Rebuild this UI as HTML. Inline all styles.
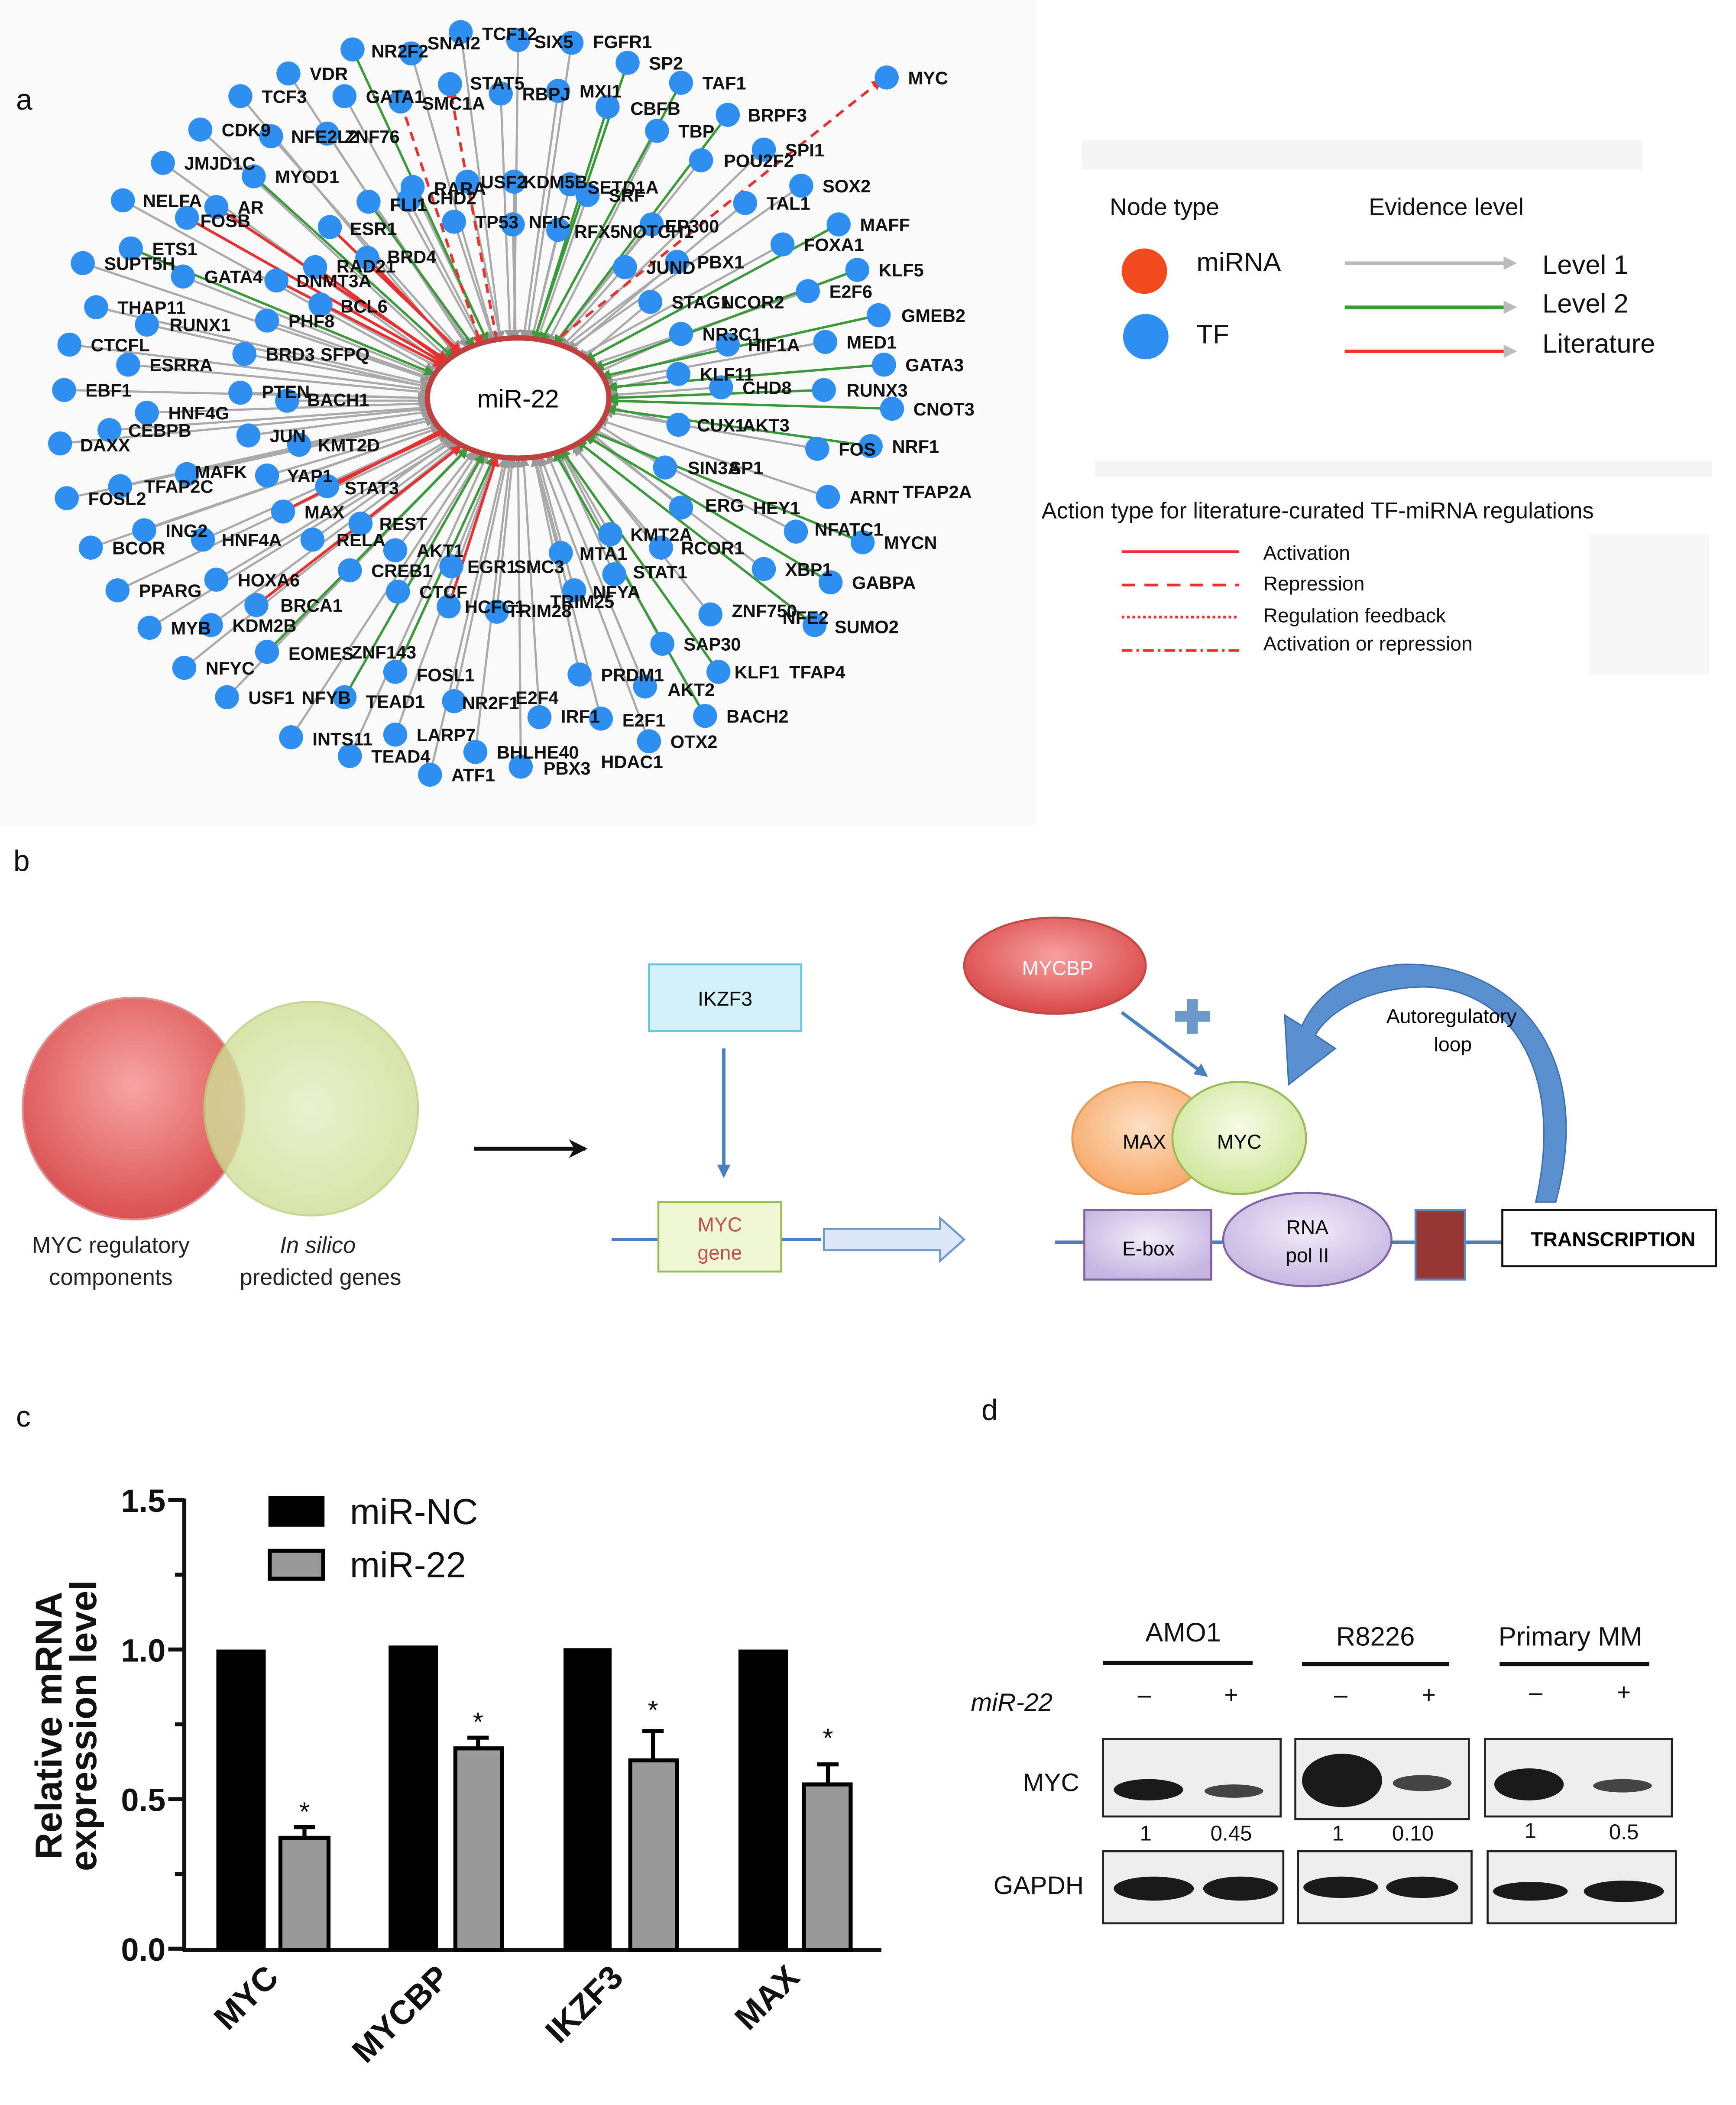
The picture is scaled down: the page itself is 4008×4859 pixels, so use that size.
<!DOCTYPE html>
<html><head><meta charset="utf-8"><style>
html,body{margin:0;padding:0;background:#fff}
svg{display:block}
.n{font-family:"Liberation Sans",sans-serif;font-size:13.5px;font-weight:bold;fill:#111}
.c{font-family:"Liberation Sans",sans-serif}
</style></head><body>
<svg width="4008" height="4859" viewBox="0 0 1300 1576" xmlns="http://www.w3.org/2000/svg">
<defs>
<marker id="ag" markerWidth="8" markerHeight="8" refX="7" refY="4" orient="auto" markerUnits="userSpaceOnUse"><path d="M0,0 L8,4 L0,8z" fill="#999"/></marker>
<marker id="agr" markerWidth="8" markerHeight="8" refX="7" refY="4" orient="auto" markerUnits="userSpaceOnUse"><path d="M0,0 L8,4 L0,8z" fill="#3a9a3a"/></marker>
<marker id="ar" markerWidth="8" markerHeight="8" refX="7" refY="4" orient="auto" markerUnits="userSpaceOnUse"><path d="M0,0 L8,4 L0,8z" fill="#e83030"/></marker>
<marker id="ab" markerWidth="10" markerHeight="10" refX="8" refY="5" orient="auto" markerUnits="userSpaceOnUse"><path d="M0,0 L10,5 L0,10z" fill="#4a7fc1"/></marker>
<marker id="ak" markerWidth="14" markerHeight="14" refX="12" refY="7" orient="auto" markerUnits="userSpaceOnUse"><path d="M0,0 L14,7 L0,14 L4,7z" fill="#111"/></marker>
<radialGradient id="gr" cx="50%" cy="40%" r="60%"><stop offset="0" stop-color="#f7a0a0"/><stop offset="1" stop-color="#d94848"/></radialGradient>
<radialGradient id="gg" cx="50%" cy="50%" r="60%"><stop offset="0" stop-color="#e4efc4"/><stop offset="1" stop-color="#c8dc8c"/></radialGradient>
<radialGradient id="go" cx="50%" cy="40%" r="60%"><stop offset="0" stop-color="#fde0c4"/><stop offset="1" stop-color="#f7a867"/></radialGradient>
<radialGradient id="gm" cx="50%" cy="40%" r="60%"><stop offset="0" stop-color="#f6fbe6"/><stop offset="1" stop-color="#cfe69a"/></radialGradient>
<radialGradient id="gp" cx="50%" cy="40%" r="60%"><stop offset="0" stop-color="#f1ecf8"/><stop offset="1" stop-color="#c7b6e2"/></radialGradient>
</defs>
<rect x="0" y="0" width="775" height="618" fill="#fafafa"/>
<rect x="810" y="105" width="420" height="22" fill="#f5f5f5"/>
<rect x="820" y="345" width="462" height="12" fill="#f5f5f5"/>
<rect x="1190" y="400" width="90" height="105" fill="#f7f7f7"/>

<!-- edges -->
<g stroke="#aaa" stroke-width="1.6" fill="none" marker-end="url(#ag)">
<line x1="345" y1="24" x2="375" y2="255"/><line x1="308" y1="40" x2="370" y2="255"/><line x1="388" y1="30" x2="385" y2="254"/>
<line x1="428" y1="32" x2="395" y2="254"/><line x1="216" y1="55" x2="350" y2="260"/><line x1="180" y1="72" x2="340" y2="264"/>
<line x1="258" y1="72" x2="360" y2="258"/><line x1="375" y1="70" x2="382" y2="254"/><line x1="418" y1="68" x2="392" y2="254"/>
<line x1="492" y1="98" x2="410" y2="257"/><line x1="572" y1="112" x2="420" y2="260"/><line x1="150" y1="97" x2="335" y2="268"/>
<line x1="203" y1="102" x2="345" y2="262"/><line x1="245" y1="100" x2="352" y2="260"/><line x1="122" y1="122" x2="330" y2="272"/>
<line x1="525" y1="120" x2="415" y2="258"/><line x1="600" y1="139" x2="425" y2="262"/><line x1="92" y1="150" x2="325" y2="278"/>
<line x1="309" y1="140" x2="365" y2="256"/><line x1="350" y1="136" x2="375" y2="255"/><line x1="385" y1="136" x2="386" y2="254"/>
<line x1="427" y1="138" x2="398" y2="255"/><line x1="440" y1="146" x2="402" y2="256"/><line x1="558" y1="152" x2="425" y2="264"/>
<line x1="306" y1="150" x2="362" y2="258"/><line x1="340" y1="166" x2="370" y2="257"/><line x1="384" y1="168" x2="386" y2="254"/>
<line x1="418" y1="172" x2="398" y2="255"/><line x1="488" y1="168" x2="415" y2="258"/><line x1="586" y1="183" x2="432" y2="268"/>
<line x1="62" y1="197" x2="322" y2="284"/><line x1="137" y1="207" x2="325" y2="282"/><line x1="468" y1="200" x2="415" y2="260"/>
<line x1="507" y1="196" x2="420" y2="262"/><line x1="605" y1="218" x2="440" y2="274"/><line x1="240" y1="228" x2="330" y2="276"/>
<line x1="487" y1="226" x2="435" y2="270"/><line x1="72" y1="230" x2="322" y2="288"/><line x1="110" y1="243" x2="322" y2="290"/>
<line x1="200" y1="240" x2="325" y2="284"/><line x1="510" y1="250" x2="445" y2="280"/><line x1="545" y1="258" x2="450" y2="284"/>
<line x1="618" y1="256" x2="452" y2="286"/><line x1="52" y1="258" x2="322" y2="292"/><line x1="96" y1="273" x2="322" y2="294"/>
<line x1="183" y1="265" x2="324" y2="290"/><line x1="508" y1="280" x2="454" y2="292"/><line x1="540" y1="290" x2="455" y2="296"/>
<line x1="48" y1="292" x2="320" y2="298"/><line x1="180" y1="294" x2="320" y2="298"/><line x1="215" y1="300" x2="320" y2="300"/>
<line x1="110" y1="309" x2="321" y2="302"/><line x1="45" y1="332" x2="322" y2="306"/><line x1="82" y1="322" x2="322" y2="305"/>
<line x1="186" y1="326" x2="323" y2="308"/><line x1="224" y1="333" x2="325" y2="312"/><line x1="508" y1="318" x2="454" y2="304"/>
<line x1="612" y1="336" x2="452" y2="308"/><line x1="140" y1="355" x2="326" y2="314"/><line x1="90" y1="364" x2="325" y2="312"/>
<line x1="200" y1="356" x2="330" y2="318"/><line x1="498" y1="350" x2="445" y2="316"/><line x1="50" y1="373" x2="326" y2="314"/>
<line x1="620" y1="372" x2="448" y2="314"/><line x1="270" y1="392" x2="345" y2="332"/><line x1="510" y1="380" x2="440" y2="322"/>
<line x1="108" y1="397" x2="330" y2="320"/><line x1="152" y1="404" x2="334" y2="322"/><line x1="234" y1="404" x2="340" y2="328"/>
<line x1="596" y1="398" x2="442" y2="320"/><line x1="68" y1="410" x2="330" y2="320"/><line x1="296" y1="412" x2="355" y2="338"/>
<line x1="457" y1="400" x2="420" y2="336"/><line x1="420" y1="414" x2="400" y2="340"/><line x1="495" y1="410" x2="428" y2="332"/>
<line x1="88" y1="442" x2="335" y2="325"/><line x1="162" y1="434" x2="338" y2="328"/><line x1="262" y1="427" x2="350" y2="335"/>
<line x1="338" y1="424" x2="372" y2="340"/><line x1="460" y1="430" x2="418" y2="338"/><line x1="572" y1="426" x2="440" y2="325"/>
<line x1="298" y1="443" x2="362" y2="338"/><line x1="372" y1="458" x2="384" y2="342"/><line x1="430" y1="442" x2="402" y2="340"/>
<line x1="112" y1="470" x2="340" y2="330"/><line x1="158" y1="468" x2="342" y2="332"/><line x1="532" y1="460" x2="430" y2="334"/>
<line x1="496" y1="482" x2="420" y2="338"/><line x1="138" y1="500" x2="345" y2="334"/><line x1="434" y1="505" x2="400" y2="342"/>
<line x1="483" y1="514" x2="410" y2="340"/><line x1="170" y1="522" x2="350" y2="336"/><line x1="340" y1="525" x2="380" y2="342"/>
<line x1="404" y1="537" x2="392" y2="342"/><line x1="450" y1="538" x2="400" y2="342"/><line x1="218" y1="552" x2="358" y2="338"/>
<line x1="296" y1="550" x2="372" y2="342"/><line x1="486" y1="555" x2="405" y2="342"/><line x1="262" y1="566" x2="365" y2="340"/>
<line x1="356" y1="563" x2="382" y2="343"/><line x1="390" y1="574" x2="388" y2="343"/><line x1="322" y1="580" x2="378" y2="343"/>
</g>
<g stroke="#3a9a3a" stroke-width="1.8" fill="none" marker-end="url(#agr)">
<line x1="264" y1="37" x2="365" y2="256"/><line x1="470" y1="47" x2="400" y2="255"/><line x1="510" y1="62" x2="405" y2="256"/>
<line x1="455" y1="80" x2="400" y2="255"/><line x1="545" y1="86" x2="415" y2="258"/><line x1="276" y1="151" x2="355" y2="260"/>
<line x1="628" y1="168" x2="438" y2="270"/><line x1="642" y1="202" x2="445" y2="276"/><line x1="658" y1="236" x2="450" y2="282"/>
<line x1="662" y1="273" x2="455" y2="290"/><line x1="617" y1="292" x2="456" y2="298"/><line x1="668" y1="306" x2="456" y2="300"/>
<line x1="652" y1="334" x2="454" y2="306"/><line x1="646" y1="406" x2="440" y2="322"/><line x1="622" y1="436" x2="438" y2="326"/>
<line x1="610" y1="468" x2="432" y2="330"/><line x1="538" y1="503" x2="420" y2="336"/><line x1="528" y1="536" x2="415" y2="338"/>
<line x1="296" y1="503" x2="370" y2="342"/><line x1="200" y1="488" x2="350" y2="336"/><line x1="258" y1="522" x2="362" y2="340"/>
<line x1="190" y1="132" x2="340" y2="268"/><line x1="98" y1="186" x2="325" y2="280"/>
</g>
<g stroke="#e83030" stroke-width="2" fill="none" marker-end="url(#ar)">
<line x1="162" y1="155" x2="335" y2="270"/><line x1="236" y1="200" x2="335" y2="272"/><line x1="207" y1="210" x2="332" y2="274"/>
<line x1="247" y1="170" x2="345" y2="264"/><line x1="275" y1="193" x2="345" y2="266"/><line x1="245" y1="364" x2="336" y2="322"/>
<line x1="192" y1="453" x2="345" y2="334"/><line x1="212" y1="383" x2="335" y2="320"/><line x1="336" y1="454" x2="372" y2="342"/>
<line x1="140" y1="163" x2="333" y2="272"/>
</g>
<g stroke="#e83030" stroke-width="2" fill="none" stroke-dasharray="7,5" marker-end="url(#ar)">
<line x1="420" y1="252" x2="660" y2="60"/><line x1="372" y1="255" x2="337" y2="66"/><line x1="300" y1="76" x2="360" y2="258"/>
</g>
<ellipse cx="388" cy="298" rx="68" ry="45" fill="#fff" stroke="#c04040" stroke-width="4"/>
<text x="388" y="305" text-anchor="middle" class="c" font-size="19">miR-22</text>

<!-- nodes -->
<g fill="#2f8ff0">
<circle cx="345" cy="24" r="9"/><circle cx="264" cy="37" r="9"/><circle cx="308" cy="40" r="9"/><circle cx="388" cy="30" r="9"/><circle cx="428" cy="32" r="9"/><circle cx="470" cy="47" r="9"/><circle cx="664" cy="58" r="9"/><circle cx="216" cy="55" r="9"/><circle cx="337" cy="63" r="9"/><circle cx="510" cy="62" r="9"/><circle cx="180" cy="72" r="9"/><circle cx="258" cy="72" r="9"/><circle cx="300" cy="76" r="9"/><circle cx="375" cy="70" r="9"/><circle cx="418" cy="68" r="9"/><circle cx="455" cy="80" r="9"/><circle cx="545" cy="86" r="9"/><circle cx="150" cy="97" r="9"/><circle cx="203" cy="102" r="9"/><circle cx="245" cy="100" r="9"/><circle cx="492" cy="98" r="9"/><circle cx="572" cy="112" r="9"/><circle cx="122" cy="122" r="9"/><circle cx="190" cy="132" r="9"/><circle cx="525" cy="120" r="9"/><circle cx="600" cy="139" r="9"/><circle cx="92" cy="150" r="9"/><circle cx="162" cy="155" r="9"/><circle cx="140" cy="163" r="9"/><circle cx="276" cy="151" r="9"/><circle cx="309" cy="140" r="9"/><circle cx="350" cy="136" r="9"/><circle cx="385" cy="136" r="9"/><circle cx="427" cy="138" r="9"/><circle cx="440" cy="146" r="9"/><circle cx="558" cy="152" r="9"/><circle cx="628" cy="168" r="9"/><circle cx="247" cy="170" r="9"/><circle cx="306" cy="150" r="9"/><circle cx="340" cy="166" r="9"/><circle cx="384" cy="168" r="9"/><circle cx="418" cy="172" r="9"/><circle cx="488" cy="168" r="9"/><circle cx="586" cy="183" r="9"/><circle cx="98" cy="186" r="9"/><circle cx="236" cy="200" r="9"/><circle cx="275" cy="193" r="9"/><circle cx="468" cy="200" r="9"/><circle cx="507" cy="196" r="9"/><circle cx="642" cy="202" r="9"/><circle cx="62" cy="197" r="9"/><circle cx="137" cy="207" r="9"/><circle cx="207" cy="210" r="9"/><circle cx="605" cy="218" r="9"/><circle cx="240" cy="228" r="9"/><circle cx="487" cy="226" r="9"/><circle cx="72" cy="230" r="9"/><circle cx="110" cy="243" r="9"/><circle cx="200" cy="240" r="9"/><circle cx="658" cy="236" r="9"/><circle cx="510" cy="250" r="9"/><circle cx="545" cy="258" r="9"/><circle cx="618" cy="256" r="9"/><circle cx="52" cy="258" r="9"/><circle cx="96" cy="273" r="9"/><circle cx="183" cy="265" r="9"/><circle cx="662" cy="273" r="9"/><circle cx="508" cy="280" r="9"/><circle cx="540" cy="290" r="9"/><circle cx="617" cy="292" r="9"/><circle cx="48" cy="292" r="9"/><circle cx="180" cy="294" r="9"/><circle cx="215" cy="300" r="9"/><circle cx="668" cy="306" r="9"/><circle cx="110" cy="309" r="9"/><circle cx="45" cy="332" r="9"/><circle cx="82" cy="322" r="9"/><circle cx="186" cy="326" r="9"/><circle cx="224" cy="333" r="9"/><circle cx="508" cy="318" r="9"/><circle cx="612" cy="336" r="9"/><circle cx="652" cy="334" r="9"/><circle cx="140" cy="355" r="9"/><circle cx="90" cy="364" r="9"/><circle cx="200" cy="356" r="9"/><circle cx="245" cy="364" r="9"/><circle cx="498" cy="350" r="9"/><circle cx="50" cy="373" r="9"/><circle cx="620" cy="372" r="9"/><circle cx="212" cy="383" r="9"/><circle cx="270" cy="392" r="9"/><circle cx="510" cy="380" r="9"/><circle cx="108" cy="397" r="9"/><circle cx="152" cy="404" r="9"/><circle cx="234" cy="404" r="9"/><circle cx="596" cy="398" r="9"/><circle cx="646" cy="406" r="9"/><circle cx="68" cy="410" r="9"/><circle cx="296" cy="412" r="9"/><circle cx="457" cy="400" r="9"/><circle cx="420" cy="414" r="9"/><circle cx="495" cy="410" r="9"/><circle cx="88" cy="442" r="9"/><circle cx="162" cy="434" r="9"/><circle cx="262" cy="427" r="9"/><circle cx="338" cy="424" r="9"/><circle cx="460" cy="430" r="9"/><circle cx="572" cy="426" r="9"/><circle cx="622" cy="436" r="9"/><circle cx="298" cy="443" r="9"/><circle cx="336" cy="454" r="9"/><circle cx="372" cy="458" r="9"/><circle cx="430" cy="442" r="9"/><circle cx="192" cy="453" r="9"/><circle cx="112" cy="470" r="9"/><circle cx="158" cy="468" r="9"/><circle cx="532" cy="460" r="9"/><circle cx="610" cy="468" r="9"/><circle cx="200" cy="488" r="9"/><circle cx="496" cy="482" r="9"/><circle cx="138" cy="500" r="9"/><circle cx="296" cy="503" r="9"/><circle cx="434" cy="505" r="9"/><circle cx="538" cy="503" r="9"/><circle cx="483" cy="514" r="9"/><circle cx="170" cy="522" r="9"/><circle cx="258" cy="522" r="9"/><circle cx="340" cy="525" r="9"/><circle cx="404" cy="537" r="9"/><circle cx="450" cy="538" r="9"/><circle cx="528" cy="536" r="9"/><circle cx="218" cy="552" r="9"/><circle cx="296" cy="550" r="9"/><circle cx="486" cy="555" r="9"/><circle cx="262" cy="566" r="9"/><circle cx="356" cy="563" r="9"/><circle cx="390" cy="574" r="9"/><circle cx="322" cy="580" r="9"/>
</g>
<g class="n">
<text x="361" y="30">TCF12</text><text x="278" y="43">NR2F2</text><text x="320" y="37">SNAI2</text><text x="400" y="36">SIX5</text><text x="444" y="36">FGFR1</text><text x="486" y="52">SP2</text><text x="680" y="63">MYC</text><text x="232" y="60">VDR</text><text x="352" y="67">STAT5</text><text x="526" y="67">TAF1</text><text x="196" y="77">TCF3</text><text x="274" y="77">GATA1</text><text x="316" y="82">SMC1A</text><text x="391" y="75">RBPJ</text><text x="434" y="73">MXI1</text><text x="472" y="86">CBFB</text><text x="560" y="91">BRPF3</text><text x="166" y="102">CDK9</text><text x="218" y="107">NFE2L2</text><text x="258" y="107">ZNF76</text><text x="508" y="103">TBP</text><text x="588" y="117">SPI1</text><text x="138" y="127">JMJD1C</text><text x="206" y="137">MYOD1</text><text x="542" y="125">POU2F2</text><text x="616" y="144">SOX2</text><text x="107" y="155">NELFA</text><text x="178" y="160">AR</text><text x="150" y="170">FOSB</text><text x="292" y="158">FLI1</text><text x="325" y="146">RARA</text><text x="360" y="141">USF2</text><text x="392" y="141">KDM5B</text><text x="440" y="145">SETD1A</text><text x="456" y="151">SRF</text><text x="574" y="157">TAL1</text><text x="644" y="173">MAFF</text><text x="262" y="176">ESR1</text><text x="320" y="153">CHD2</text><text x="356" y="171">TP53</text><text x="396" y="171">NFIC</text><text x="430" y="178">RFX5</text><text x="464" y="178">NOTCH1</text><text x="498" y="174">EP300</text><text x="602" y="188">FOXA1</text><text x="114" y="191">ETS1</text><text x="252" y="204">RAD21</text><text x="290" y="197">BRD4</text><text x="484" y="205">JUND</text><text x="522" y="201">PBX1</text><text x="658" y="207">KLF5</text><text x="78" y="202">SUPT5H</text><text x="153" y="212">GATA4</text><text x="222" y="215">DNMT3A</text><text x="621" y="223">E2F6</text><text x="255" y="234">BCL6</text><text x="503" y="231">STAG1</text><text x="540" y="231">NCOR2</text><text x="88" y="235">THAP11</text><text x="127" y="248">RUNX1</text><text x="216" y="245">PHF8</text><text x="675" y="241">GMEB2</text><text x="526" y="255">NR3C1</text><text x="560" y="263">HIF1A</text><text x="634" y="261">MED1</text><text x="68" y="263">CTCFL</text><text x="112" y="278">ESRRA</text><text x="199" y="270">BRD3</text><text x="240" y="270">SFPQ</text><text x="678" y="278">GATA3</text><text x="524" y="285">KLF11</text><text x="556" y="295">CHD8</text><text x="634" y="297">RUNX3</text><text x="64" y="297">EBF1</text><text x="196" y="298">PTEN</text><text x="230" y="304">BACH1</text><text x="684" y="311">CNOT3</text><text x="126" y="314">HNF4G</text><text x="60" y="338">DAXX</text><text x="96" y="327">CEBPB</text><text x="202" y="331">JUN</text><text x="238" y="338">KMT2D</text><text x="522" y="323">CUX1</text><text x="556" y="323">AKT3</text><text x="628" y="341">FOS</text><text x="668" y="339">NRF1</text><text x="146" y="358">MAFK</text><text x="108" y="369">TFAP2C</text><text x="215" y="361">YAP1</text><text x="258" y="370">STAT3</text><text x="515" y="355">SIN3A</text><text x="546" y="355">SP1</text><text x="66" y="378">FOSL2</text><text x="636" y="377">ARNT</text><text x="676" y="373">TFAP2A</text><text x="228" y="388">MAX</text><text x="284" y="397">REST</text><text x="528" y="383">ERG</text><text x="564" y="385">HEY1</text><text x="124" y="402">ING2</text><text x="166" y="409">HNF4A</text><text x="252" y="409">RELA</text><text x="610" y="401">NFATC1</text><text x="662" y="411">MYCN</text><text x="84" y="415">BCOR</text><text x="312" y="417">AKT1</text><text x="472" y="405">KMT2A</text><text x="434" y="419">MTA1</text><text x="510" y="415">RCOR1</text><text x="104" y="447">PPARG</text><text x="178" y="439">HOXA6</text><text x="278" y="432">CREB1</text><text x="350" y="429">EGR1</text><text x="385" y="429">SMC3</text><text x="474" y="433">STAT1</text><text x="588" y="431">XBP1</text><text x="638" y="441">GABPA</text><text x="314" y="448">CTCF</text><text x="348" y="459">HCFC1</text><text x="380" y="462">TRIM28</text><text x="412" y="455">TRIM25</text><text x="444" y="448">NFYA</text><text x="210" y="458">BRCA1</text><text x="128" y="475">MYB</text><text x="174" y="473">KDM2B</text><text x="548" y="462">ZNF750</text><text x="586" y="467">NFE2</text><text x="625" y="474">SUMO2</text><text x="216" y="494">EOMES</text><text x="263" y="493">ZNF143</text><text x="512" y="487">SAP30</text><text x="154" y="505">NFYC</text><text x="312" y="510">FOSL1</text><text x="450" y="510">PRDM1</text><text x="550" y="508">KLF1</text><text x="591" y="508">TFAP4</text><text x="500" y="521">AKT2</text><text x="186" y="527">USF1</text><text x="226" y="527">NFYB</text><text x="274" y="530">TEAD1</text><text x="346" y="531">NR2F1</text><text x="386" y="527">E2F4</text><text x="420" y="541">IRF1</text><text x="466" y="544">E2F1</text><text x="544" y="541">BACH2</text><text x="234" y="558">INTS11</text><text x="312" y="555">LARP7</text><text x="502" y="560">OTX2</text><text x="278" y="571">TEAD4</text><text x="372" y="568">BHLHE40</text><text x="407" y="580">PBX3</text><text x="450" y="575">HDAC1</text><text x="338" y="585">ATF1</text>
</g>

<!-- legend a -->
<g class="c" font-size="18" fill="#111">
<text x="831" y="161">Node type</text><text x="1025" y="161">Evidence level</text>
<circle cx="857" cy="203" r="17" fill="#f24a1f"/><text x="896" y="203" font-size="20">miRNA</text>
<circle cx="858" cy="252" r="17" fill="#2f8ff0"/><text x="896" y="257" font-size="20">TF</text>
<line x1="1007" y1="197" x2="1133" y2="197" stroke="#bbb" stroke-width="2.5"/><path d="M1126,192 L1136,197 L1126,202z" fill="#bbb"/>
<line x1="1007" y1="230" x2="1133" y2="230" stroke="#3a9a3a" stroke-width="2.5"/><path d="M1126,225 L1136,230 L1126,235z" fill="#bbb"/>
<line x1="1007" y1="263" x2="1133" y2="263" stroke="#f03030" stroke-width="2.5"/><path d="M1126,258 L1136,263 L1126,268z" fill="#bbb"/>
<text x="1155" y="205" font-size="20">Level 1</text><text x="1155" y="234" font-size="20">Level 2</text><text x="1155" y="264" font-size="20">Literature</text>
<text x="780" y="388" font-size="17">Action type for literature-curated TF-miRNA regulations</text>
<line x1="840" y1="413" x2="928" y2="413" stroke="#f03030" stroke-width="2"/>
<line x1="840" y1="438" x2="928" y2="438" stroke="#f03030" stroke-width="2" stroke-dasharray="10,7"/>
<line x1="840" y1="462" x2="928" y2="462" stroke="#f03030" stroke-width="2" stroke-dasharray="2,2"/>
<line x1="840" y1="487" x2="928" y2="487" stroke="#f03030" stroke-width="2" stroke-dasharray="8,3,2,3"/>
<g font-size="15"><text x="946" y="419">Activation</text><text x="946" y="442">Repression</text><text x="946" y="466">Regulation feedback</text><text x="946" y="487">Activation or repression</text></g>
</g>

<!-- panel labels -->
<g class="c" font-size="22" fill="#111">
<text x="12" y="82">a</text><text x="10" y="652">b</text><text x="12" y="1068">c</text><text x="735" y="1063">d</text>
</g>

<!-- panel b -->
<circle cx="100" cy="830" r="83" fill="url(#gr)" stroke="#d88" stroke-width="1.5" opacity="0.95"/>
<circle cx="233" cy="830" r="80" fill="url(#gg)" stroke="#b9cf7a" stroke-width="1.5" opacity="0.8"/>
<g class="c" font-size="17" fill="#222" text-anchor="middle">
<text x="83" y="938">MYC regulatory</text><text x="83" y="962">components</text>
<text x="238" y="938" font-style="italic">In silico</text><text x="240" y="962">predicted genes</text>
</g>
<line x1="355" y1="860" x2="438" y2="860" stroke="#111" stroke-width="3" marker-end="url(#ak)"/>
<rect x="486" y="722" width="114" height="50" fill="#d2f1fa" stroke="#6cc6e0" stroke-width="1.5"/>
<text x="543" y="753" text-anchor="middle" class="c" font-size="15">IKZF3</text>
<line x1="542" y1="785" x2="542" y2="880" stroke="#4a7fc1" stroke-width="2.5" marker-end="url(#ab)"/>
<line x1="458" y1="928" x2="615" y2="928" stroke="#4a7fc1" stroke-width="2.5"/>
<rect x="493" y="900" width="92" height="52" fill="#eef6d4" stroke="#9bbb59" stroke-width="1.5"/>
<text x="539" y="922" text-anchor="middle" class="c" font-size="15" fill="#c0504d">MYC</text>
<text x="539" y="943" text-anchor="middle" class="c" font-size="15" fill="#c0504d">gene</text>
<path d="M617,920 L704,920 L704,912 L722,928 L704,944 L704,936 L617,936z" fill="#dbe8f8" stroke="#6d98cc" stroke-width="1.5"/>

<ellipse cx="790" cy="723" rx="68" ry="36" fill="url(#gr)" stroke="#c04848" stroke-width="1.5"/>
<text x="792" y="730" text-anchor="middle" class="c" font-size="15" fill="#fff">MYCBP</text>
<line x1="840" y1="758" x2="903" y2="805" stroke="#4a7fc1" stroke-width="2.5" marker-end="url(#ab)"/>
<path d="M889,748 h8 v9 h9 v8 h-9 v9 h-8 v-9 h-9 v-8 h9z" fill="#6d98cc"/>
<path d="M1150,900 C1175,790 1120,730 1050,740 C1010,745 990,765 985,775 L1000,785 L965,812 L962,760 L975,768 C985,745 1010,725 1050,722 C1135,720 1195,790 1165,900z" fill="#5b90d0" stroke="#3d6fb0" stroke-width="1"/>
<text x="1087" y="766" text-anchor="middle" class="c" font-size="15">Autoregulatory</text>
<text x="1088" y="787" text-anchor="middle" class="c" font-size="15">loop</text>
<ellipse cx="855" cy="852" rx="52" ry="42" fill="url(#go)" stroke="#e69a55" stroke-width="1.5"/>
<ellipse cx="928" cy="852" rx="50" ry="42" fill="url(#gm)" stroke="#9bbb59" stroke-width="1.5"/>
<text x="857" y="860" text-anchor="middle" class="c" font-size="15">MAX</text>
<text x="928" y="860" text-anchor="middle" class="c" font-size="15">MYC</text>
<line x1="790" y1="930" x2="1125" y2="930" stroke="#4a7fc1" stroke-width="2.5"/>
<rect x="812" y="906" width="95" height="52" fill="url(#gp)" stroke="#8064a2" stroke-width="1.5"/>
<text x="860" y="940" text-anchor="middle" class="c" font-size="15">E-box</text>
<ellipse cx="979" cy="928" rx="63" ry="35" fill="url(#gp)" stroke="#8064a2" stroke-width="1.5"/>
<text x="979" y="924" text-anchor="middle" class="c" font-size="15">RNA</text>
<text x="979" y="945" text-anchor="middle" class="c" font-size="15">pol II</text>
<rect x="1060" y="906" width="37" height="52" fill="#953735" stroke="#5b8ac4" stroke-width="1.5"/>
<rect x="1125" y="906" width="160" height="42" fill="#fff" stroke="#111" stroke-width="1.5"/>
<text x="1208" y="933" text-anchor="middle" class="c" font-size="15" font-weight="bold">TRANSCRIPTION</text>

<!-- panel c -->
<g class="c" font-weight="bold" fill="#111">
<line x1="138" y1="1122" x2="138" y2="1461" stroke="#111" stroke-width="3"/>
<line x1="137" y1="1460" x2="660" y2="1460" stroke="#111" stroke-width="3"/>
<g stroke="#111" stroke-width="3"><line x1="126" y1="1123" x2="138" y2="1123"/><line x1="126" y1="1235" x2="138" y2="1235"/><line x1="126" y1="1347" x2="138" y2="1347"/><line x1="126" y1="1459" x2="138" y2="1459"/>
<line x1="131" y1="1179" x2="138" y2="1179"/><line x1="131" y1="1291" x2="138" y2="1291"/><line x1="131" y1="1403" x2="138" y2="1403"/></g>
<g font-size="24" text-anchor="end"><text x="124" y="1132">1.5</text><text x="124" y="1244">1.0</text><text x="124" y="1356">0.5</text><text x="124" y="1468">0.0</text></g>
<text transform="translate(46,1292) rotate(-90)" text-anchor="middle" font-size="28">Relative mRNA</text>
<text transform="translate(72,1292) rotate(-90)" text-anchor="middle" font-size="28">expression level</text>
<rect x="201" y="1120" width="42" height="23" fill="#000"/><text x="262" y="1141" font-size="27" font-weight="normal">miR-NC</text>
<rect x="202" y="1161" width="40" height="21" fill="#999" stroke="#000" stroke-width="3"/><text x="262" y="1181" font-size="27" font-weight="normal">miR-22</text>
<rect x="162" y="1235" width="37" height="225" fill="#000"/>
<rect x="210" y="1376" width="36" height="84" fill="#999" stroke="#000" stroke-width="3"/>
<rect x="291" y="1232" width="37" height="228" fill="#000"/>
<rect x="341" y="1309" width="35" height="151" fill="#999" stroke="#000" stroke-width="3"/>
<rect x="422" y="1234" width="36" height="226" fill="#000"/>
<rect x="472" y="1318" width="35" height="142" fill="#999" stroke="#000" stroke-width="3"/>
<rect x="553" y="1235" width="37" height="225" fill="#000"/>
<rect x="602" y="1336" width="35" height="124" fill="#999" stroke="#000" stroke-width="3"/>
<g stroke="#000" stroke-width="3"><line x1="228" y1="1376" x2="228" y2="1368"/><line x1="220" y1="1368" x2="236" y2="1368"/>
<line x1="358" y1="1309" x2="358" y2="1301"/><line x1="350" y1="1301" x2="366" y2="1301"/>
<line x1="489" y1="1318" x2="489" y2="1296"/><line x1="481" y1="1296" x2="497" y2="1296"/>
<line x1="620" y1="1336" x2="620" y2="1321"/><line x1="612" y1="1321" x2="628" y2="1321"/></g>
<g font-size="20" font-weight="normal" text-anchor="middle"><text x="228" y="1363">*</text><text x="358" y="1296">*</text><text x="489" y="1287">*</text><text x="620" y="1308">*</text></g>
<g font-size="25" text-anchor="end">
<text transform="translate(210,1482) rotate(-45)">MYC</text>
<text transform="translate(338,1482) rotate(-45)">MYCBP</text>
<text transform="translate(468,1482) rotate(-45)">IKZF3</text>
<text transform="translate(600,1482) rotate(-45)">MAX</text>
</g>
</g>

<!-- panel d -->
<g class="c" fill="#111">
<g font-size="20" text-anchor="middle"><text x="886" y="1229">AMO1</text><text x="1030" y="1232">R8226</text><text x="1176" y="1232">Primary MM</text></g>
<g stroke="#111" stroke-width="3"><line x1="826" y1="1245" x2="938" y2="1245"/><line x1="975" y1="1246" x2="1085" y2="1246"/><line x1="1123" y1="1246" x2="1235" y2="1246"/></g>
<text x="727" y="1281" font-size="19" font-style="italic">miR-22</text>
<g font-size="18" text-anchor="middle"><text x="857" y="1275">–</text><text x="922" y="1275">+</text><text x="1004" y="1275">–</text><text x="1070" y="1275">+</text><text x="1150" y="1273">–</text><text x="1216" y="1273">+</text></g>
<text x="766" y="1341" font-size="19">MYC</text>
<text x="744" y="1418" font-size="19">GAPDH</text>
<g fill="#eee" stroke="#222" stroke-width="1.5">
<rect x="826" y="1302" width="133" height="58"/><rect x="970" y="1302" width="130" height="60"/><rect x="1112" y="1302" width="140" height="58"/>
<rect x="826" y="1386" width="135" height="54"/><rect x="972" y="1386" width="130" height="54"/><rect x="1114" y="1386" width="141" height="54"/>
</g>
<g fill="#1a1a1a">
<ellipse cx="860" cy="1340" rx="26" ry="8"/><ellipse cx="924" cy="1341" rx="22" ry="5" fill="#444"/>
<ellipse cx="1005" cy="1333" rx="30" ry="20"/><ellipse cx="1065" cy="1335" rx="22" ry="6" fill="#444"/>
<ellipse cx="1145" cy="1336" rx="26" ry="12"/><ellipse cx="1215" cy="1337" rx="22" ry="5" fill="#444"/>
<ellipse cx="864" cy="1414" rx="30" ry="9"/><ellipse cx="929" cy="1414" rx="28" ry="9"/>
<ellipse cx="1004" cy="1413" rx="28" ry="8"/><ellipse cx="1065" cy="1413" rx="27" ry="8"/>
<ellipse cx="1146" cy="1416" rx="28" ry="7"/><ellipse cx="1216" cy="1416" rx="30" ry="8"/>
</g>
<g font-size="16" text-anchor="middle"><text x="858" y="1378">1</text><text x="922" y="1378">0.45</text><text x="1002" y="1378">1</text><text x="1058" y="1378">0.10</text><text x="1146" y="1376">1</text><text x="1216" y="1377">0.5</text></g>
</g>
</svg>
</body></html>
